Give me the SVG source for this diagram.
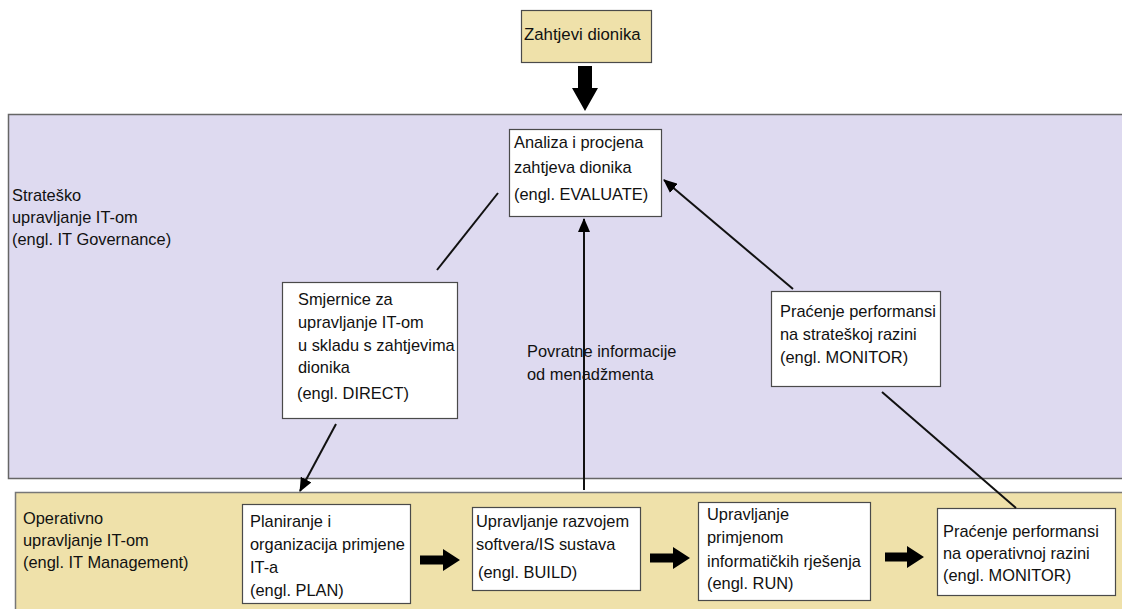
<svg xmlns="http://www.w3.org/2000/svg" width="1122" height="609" viewBox="0 0 1122 609">
<defs>
<style>
.t{font-family:"Liberation Sans",Arial,sans-serif;font-size:16.4px;fill:#111}
.box{fill:#ffffff;stroke:#4a4a4a;stroke-width:1.2}
.ln{stroke:#111;stroke-width:2;fill:none}
.fat{fill:#000}
</style>
<marker id="ah" markerWidth="14" markerHeight="12" refX="13" refY="6" orient="auto" markerUnits="userSpaceOnUse">
<path d="M0,0 L14,6 L0,12 Z" fill="#000"/>
</marker>
</defs>
<rect width="1122" height="609" fill="#ffffff"/>
<g id="band-strategic">
<rect x="8.5" y="114.5" width="1120" height="364" fill="#dedaf0" stroke="#666" stroke-width="1.5"/>
<text class="t" x="12" y="201">Strateško</text>
<text class="t" x="12" y="223">upravljanje IT-om</text>
<text class="t" x="12" y="245">(engl. IT Governance)</text>
</g>
<g id="band-operative">
<rect x="15.5" y="492.5" width="1112" height="120" fill="#efe1aa" stroke="#777" stroke-width="1.5"/>
<text class="t" x="23" y="524">Operativno</text>
<text class="t" x="23" y="546">upravljanje IT-om</text>
<text class="t" x="23" y="568">(engl. IT Management)</text>
</g>
<g id="stakeholders">
<rect x="521.5" y="10.5" width="130" height="52" fill="#efe1aa" stroke="#4a4a4a" stroke-width="1.2"/>
<text class="t" x="524" y="40" style="font-size:16.8px">Zahtjevi dionika</text>
</g>
<g id="evaluate">
<rect class="box" x="509.5" y="129.5" width="152" height="87"/>
<text class="t" x="514" y="148">Analiza i procjena</text>
<text class="t" x="514" y="173">zahtjeva dionika</text>
<text class="t" x="514" y="200">(engl. EVALUATE)</text>
</g>
<g id="direct">
<rect class="box" x="282.5" y="282.5" width="175" height="136"/>
<text class="t" x="298" y="305">Smjernice za</text>
<text class="t" x="298" y="328">upravljanje IT-om</text>
<text class="t" x="298" y="351">u skladu s zahtjevima</text>
<text class="t" x="298" y="373">dionika</text>
<text class="t" x="297" y="399">(engl. DIRECT)</text>
</g>
<g id="feedback-label">
<text class="t" x="527" y="357">Povratne informacije</text>
<text class="t" x="527" y="380">od menadžmenta</text>
</g>
<g id="monitor-strategic">
<rect class="box" x="771.5" y="291.5" width="169" height="95"/>
<text class="t" x="780" y="317">Praćenje performansi</text>
<text class="t" x="780" y="340">na strateškoj razini</text>
<text class="t" x="780" y="363">(engl. MONITOR)</text>
</g>
<g id="plan">
<rect class="box" x="242.5" y="504.5" width="168" height="99"/>
<text class="t" x="250" y="527">Planiranje i</text>
<text class="t" x="250" y="550">organizacija primjene</text>
<text class="t" x="250" y="573">IT-a</text>
<text class="t" x="250" y="596">(engl. PLAN)</text>
</g>
<g id="build">
<rect class="box" x="472.5" y="507.5" width="168" height="83"/>
<text class="t" x="476" y="527">Upravljanje razvojem</text>
<text class="t" x="476" y="550">softvera/IS sustava</text>
<text class="t" x="478" y="578">(engl. BUILD)</text>
</g>
<g id="run">
<rect class="box" x="698.5" y="502.5" width="172" height="98"/>
<text class="t" x="707" y="520">Upravljanje</text>
<text class="t" x="707" y="543">primjenom</text>
<text class="t" x="707" y="567">informatičkih rješenja</text>
<text class="t" x="707" y="589">(engl. RUN)</text>
</g>
<g id="monitor-operative">
<rect class="box" x="937.5" y="508.5" width="178" height="87"/>
<text class="t" x="943" y="537">Praćenje performansi</text>
<text class="t" x="943" y="559">na operativnoj razini</text>
<text class="t" x="943" y="581">(engl. MONITOR)</text>
</g>
<g id="connectors">
<polygon class="fat" points="578,66 592,66 592,88 598,88 585,111 572,88 578,88"/>
<line class="ln" x1="498" y1="193" x2="437" y2="270"/>
<line class="ln" x1="336" y1="424" x2="300" y2="491" marker-end="url(#ah)"/>
<line class="ln" x1="584" y1="490" x2="584" y2="219" marker-end="url(#ah)"/>
<line class="ln" x1="793" y1="289" x2="664" y2="180" marker-end="url(#ah)"/>
<line class="ln" x1="882" y1="392" x2="1016" y2="508"/>
<polygon class="fat" points="420,555.5 443,555.5 443,549 460,560 443,571 443,564.5 420,564.5"/>
<polygon class="fat" points="650,553.5 673,553.5 673,547 690,558 673,569 673,562.5 650,562.5"/>
<polygon class="fat" points="885,552.5 907,552.5 907,546 924,557 907,568 907,561.5 885,561.5"/>
</g>
</svg>
